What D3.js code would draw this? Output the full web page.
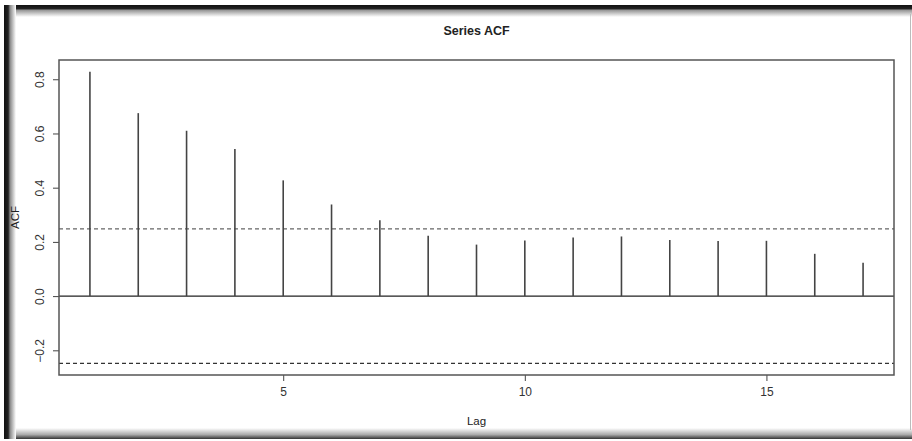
<!DOCTYPE html>
<html>
<head>
<meta charset="utf-8">
<script src="https://cdn.jsdelivr.net/npm/d3@7"></script>
<style>
  body { margin: 0; background: #fff; }
  svg { display: block; font-family: "Liberation Sans", Arial, sans-serif; }
</style>
</head>
<body>
<svg width="912" height="441"></svg>
<script>
  const lags = [1, 2, 3, 4, 5, 6, 7, 8, 9, 10, 11, 12, 13, 14, 15, 16, 17];
  const acfValues = [0.828, 0.675, 0.610, 0.543, 0.427, 0.338, 0.280, 0.223, 0.190,
                     0.205, 0.216, 0.220, 0.207, 0.203, 0.204, 0.156, 0.123];
  const confLimit = 0.248;
  const xTicks = [5, 10, 15];
  const yTicks = [-0.2, 0.0, 0.2, 0.4, 0.6, 0.8];

  const svg = d3.select("svg");
  const width = +svg.attr("width");
  const height = +svg.attr("height");

  // frame with shaded edges
  const defs = svg.append("defs");
  const mkGrad = (id, x1, y1, x2, y2, stops) => {
    const g = defs.append("linearGradient").attr("id", id)
      .attr("x1", x1).attr("y1", y1).attr("x2", x2).attr("y2", y2);
    stops.forEach(s => g.append("stop").attr("offset", s[0]).attr("stop-color", s[1]));
  };
  mkGrad("gLeft", 0, 0, 1, 0, [[0, "#111"], [0.35, "#222"], [0.5, "#888"], [1, "#fff"]]);
  mkGrad("gTop", 0, 0, 0, 1, [[0, "#111"], [0.3, "#222"], [0.45, "#999"], [1, "#fff"]]);
  mkGrad("gBottom", 0, 0, 0, 1, [[0, "#fff"], [0.6, "#aaa"], [1, "#333"]]);

  svg.append("rect").attr("x", 0).attr("y", 0).attr("width", width).attr("height", height).attr("fill", "#fff");
  svg.append("rect").attr("x", 4).attr("y", 5).attr("width", width - 4).attr("height", 12).attr("fill", "url(#gTop)");
  svg.append("rect").attr("x", 4).attr("y", 428).attr("width", width - 4).attr("height", 11).attr("fill", "url(#gBottom)");
  svg.append("rect").attr("x", 4).attr("y", 5).attr("width", 12).attr("height", 434).attr("fill", "url(#gLeft)");
  svg.append("line").attr("x1", 910.5).attr("x2", 910.5).attr("y1", 14).attr("y2", 430)
    .attr("stroke", "#bbb").attr("stroke-width", 1);

  const margin = { left: 59, top: 60, right: 894, bottom: 375 };

  const x = d3.scaleLinear()
    .domain([1 - 0.04 * 16, 17 + 0.04 * 16])
    .range([margin.left, margin.right]);
  const yMin = -confLimit, yMax = d3.max(acfValues);
  const yPad = (yMax - yMin) * 0.04;
  const y = d3.scaleLinear()
    .domain([yMin - yPad, yMax + yPad])
    .range([margin.bottom, margin.top]);

  // title
  svg.append("text")
    .attr("x", (margin.left + margin.right) / 2)
    .attr("y", 35)
    .attr("text-anchor", "middle")
    .attr("font-size", 12.5)
    .attr("font-weight", "bold")
    .attr("fill", "#222")
    .text("Series ACF");

  // x axis
  const xAxis = svg.append("g")
    .attr("transform", `translate(0,${margin.bottom})`)
    .call(d3.axisBottom(x).tickValues(xTicks).tickSize(6).tickPadding(6).tickFormat(d3.format("d")));
  xAxis.select(".domain").remove();
  xAxis.selectAll("line").attr("stroke", "#444");
  xAxis.selectAll("text").attr("font-size", 12).attr("fill", "#333")
    .attr("font-family", "Liberation Sans, Arial, sans-serif");

  // y axis with rotated labels
  const yAxis = svg.append("g")
    .attr("transform", `translate(${margin.left},0)`)
    .call(d3.axisLeft(y).tickValues(yTicks).tickSize(6).tickFormat(d3.format(".1f")));
  yAxis.select(".domain").remove();
  yAxis.selectAll("line").attr("stroke", "#444");
  yAxis.selectAll("text")
    .attr("font-size", 12).attr("fill", "#333")
    .attr("font-family", "Liberation Sans, Arial, sans-serif")
    .attr("x", null).attr("dy", null)
    .attr("text-anchor", "middle")
    .attr("transform", "translate(-15,0) rotate(-90)");

  // axis titles
  svg.append("text")
    .attr("x", (margin.left + margin.right) / 2)
    .attr("y", 425)
    .attr("text-anchor", "middle")
    .attr("font-size", 11.5).attr("fill", "#222")
    .text("Lag");
  svg.append("text")
    .attr("transform", `translate(19,${(margin.top + margin.bottom) / 2}) rotate(-90)`)
    .attr("text-anchor", "middle")
    .attr("font-size", 11.5).attr("fill", "#222")
    .text("ACF");

  // zero line
  svg.append("line")
    .attr("x1", margin.left).attr("x2", margin.right)
    .attr("y1", y(0)).attr("y2", y(0))
    .attr("stroke", "#222").attr("stroke-width", 1.3);

  // confidence bounds
  svg.selectAll(".conf").data([confLimit, -confLimit]).enter().append("line")
    .attr("class", "conf")
    .attr("x1", margin.left).attr("x2", margin.right)
    .attr("y1", d => y(d)).attr("y2", d => y(d))
    .attr("stroke", (d, i) => i === 0 ? "#666" : "#333")
    .attr("stroke-width", 1.1)
    .attr("stroke-dasharray", "4,3");

  // spikes
  svg.selectAll(".spike").data(lags).enter().append("line")
    .attr("class", "spike")
    .attr("x1", d => x(d)).attr("x2", d => x(d))
    .attr("y1", y(0)).attr("y2", (d, i) => y(acfValues[i]))
    .attr("stroke", "#444").attr("stroke-width", 1.6);

  // plot box
  svg.append("rect")
    .attr("x", margin.left).attr("y", margin.top)
    .attr("width", margin.right - margin.left)
    .attr("height", margin.bottom - margin.top)
    .attr("fill", "none").attr("stroke", "#555").attr("stroke-width", 1.5);
</script>
</body>
</html>
